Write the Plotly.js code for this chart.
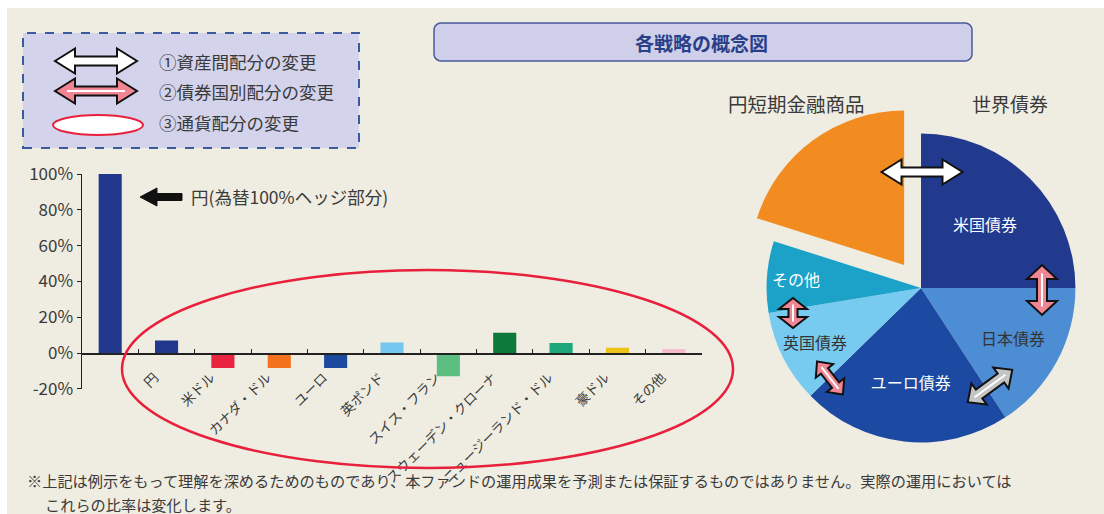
<!DOCTYPE html>
<html>
<head>
<meta charset="utf-8">
<script src="https://cdn.plot.ly/plotly-3.0.1.min.js"></script>
<style>
html, body { margin: 0; padding: 0; background: #fff; }
#chart { width: 1104px; height: 514px; }
</style>
</head>
<body>
<div id="chart"></div>
<script>
// Currency allocation (bar chart)
const currencies = ['円(ヘッジ)', '円', '米ドル', 'カナダ・ドル', 'ユーロ', '英ポンド', 'スイス・フラン',
    'スウェーデン・クローナ', 'ニュージーランド・ドル', '豪ドル', 'その他'];
const currencyLabels = ['', '円', '米ドル', 'カナダ・ドル', 'ユーロ', '英ポンド', 'スイス・フラン',
    'スウェーデン・クローナ', 'ニュージーランド・ドル', '豪ドル', 'その他'];
const currencyShares = [100, 7, -8.4, -8.4, -8.4, 5.8, -13, 11.3, 5.6, 3, 2.2];
const currencyColors = ['#22388c', '#22388c', '#e8243e', '#f2721e', '#1b4a9e', '#74c8f0', '#5cbd80',
    '#0d7a3c', '#1fa77c', '#efc21a', '#f6bccb'];
const yTicks = [-20, 0, 20, 40, 60, 80, 100];

// Asset allocation (pie)
const assetNames = ['米国債券', '日本債券', 'ユーロ債券', '英国債券', 'その他', '円短期金融商品'];
const assetShares = [25, 15.8, 21.9, 9.7, 7.5, 20.1];
const assetText = ['米国債券', '日本債券', 'ユーロ債券', '英国債券', 'その他', ''];
const assetColors = ['#213a8e', '#4d8dd4', '#1c4aa3', '#78cbf0', '#1ca2c8', '#f28b20'];
const assetTextColors = ['#ffffff', '#333333', '#ffffff', '#333333', '#ffffff', '#ffffff'];
const assetPull = [0, 0, 0, 0, 0, 0.185];

const W = 1104, H = 514;
const FONT = '"Noto Sans CJK JP", "Noto Sans", sans-serif';
const px = x => x / W;
const py = y => 1 - y / H;
const pathOf = pts => 'M' + pts.map(p => px(p[0]).toFixed(5) + ',' + py(p[1]).toFixed(5)).join(' L') + ' Z';

// double arrow polygon in pixel space -> paper path
function doubleArrow(cx, cy, len, ang, sw, hw, hl) {
    const a = ang * Math.PI / 180, c = Math.cos(a), s = Math.sin(a);
    const L = len / 2;
    const pts = [[-L, 0], [-L + hl, -hw / 2], [-L + hl, -sw / 2], [L - hl, -sw / 2], [L - hl, -hw / 2],
        [L, 0], [L - hl, hw / 2], [L - hl, sw / 2], [-L + hl, sw / 2], [-L + hl, hw / 2]];
    return pathOf(pts.map(p => [cx + p[0] * c - p[1] * s, cy + p[0] * s + p[1] * c]));
}

function stripe(cx, cy, len, ang, hl) {
    const a = ang * Math.PI / 180, c = Math.cos(a), s = Math.sin(a);
    const L = len / 2 - hl * 0.6;
    return {
        type: 'line', xref: 'paper', yref: 'paper',
        x0: px(cx - L * c), y0: py(cy - L * s), x1: px(cx + L * c), y1: py(cy + L * s),
        line: { color: '#ffffff', width: 2 }
    };
}

// rounded rectangle as polygon
function roundRect(x0, y0, x1, y1, r) {
    const pts = [];
    const corners = [[x1 - r, y0 + r, -90], [x1 - r, y1 - r, 0], [x0 + r, y1 - r, 90], [x0 + r, y0 + r, 180]];
    corners.forEach(c => {
        for (let k = 0; k <= 6; k++) {
            const t = (c[2] + k * 15) * Math.PI / 180;
            pts.push([c[0] + r * Math.cos(t), c[1] + r * Math.sin(t)]);
        }
    });
    return pathOf(pts);
}

const arrows = [
    { cx: 96, cy: 61, len: 82, ang: 0, sw: 9, hw: 25, hl: 20, fill: '#ffffff', stripe: false },
    { cx: 96, cy: 91, len: 82, ang: 0, sw: 9, hw: 25, hl: 20, fill: '#f08593', stripe: true },
    { cx: 922, cy: 172, len: 81, ang: 0, sw: 9, hw: 25, hl: 20, fill: '#ffffff', stripe: false },
    { cx: 1042, cy: 290, len: 50, ang: 90, sw: 10, hw: 30, hl: 14, fill: '#f08593', stripe: true },
    { cx: 793, cy: 313, len: 30, ang: 90, sw: 9, hw: 28, hl: 11, fill: '#f08593', stripe: true },
    { cx: 830, cy: 378, len: 42, ang: 52, sw: 9, hw: 22, hl: 12, fill: '#f08593', stripe: true },
    { cx: 990, cy: 386, len: 55, ang: -36, sw: 11, hw: 26, hl: 14, fill: '#c4c4c4', stripe: true }
];

const shapes = [
    // beige backdrop
    { type: 'rect', xref: 'paper', yref: 'paper', layer: 'below', x0: px(7), x1: 1, y0: 0, y1: py(8),
      fillcolor: '#efede2', line: { width: 0 } },
    // legend box
    { type: 'rect', xref: 'paper', yref: 'paper', x0: px(23), x1: px(359), y0: py(148), y1: py(33),
      fillcolor: '#d3d3ec', line: { color: '#3a5a9c', width: 2, dash: 'dash' } },
    // legend ellipse
    { type: 'circle', xref: 'paper', yref: 'paper', x0: px(53), x1: px(143), y0: py(135), y1: py(115),
      fillcolor: '#ffffff', line: { color: '#e8203c', width: 2 } },
    // title box
    { type: 'path', xref: 'paper', yref: 'paper', path: roundRect(434, 23, 972, 61, 7),
      fillcolor: '#cfcfea', line: { color: '#4a5a9a', width: 1.5 } },
    // currency ellipse
    { type: 'circle', xref: 'paper', yref: 'paper', x0: px(122), x1: px(733), y0: py(468), y1: py(270),
      line: { color: '#e8203c', width: 2.5 } },
    // black pointer arrow
    { type: 'path', xref: 'paper', yref: 'paper',
      path: pathOf([[140, 197], [157, 188], [157, 193.5], [182, 193.5], [182, 200.5], [157, 200.5], [157, 206]]),
      fillcolor: '#111111', line: { color: '#111111', width: 1 } }
];

arrows.forEach(a => {
    shapes.push({
        type: 'path', xref: 'paper', yref: 'paper',
        path: doubleArrow(a.cx, a.cy, a.len, a.ang, a.sw, a.hw, a.hl),
        fillcolor: a.fill, line: { color: '#111111', width: 2 }
    });
    if (a.stripe) shapes.push(stripe(a.cx, a.cy, a.len, a.ang, a.hl));
});

const txt = (x, y, text, size, opts) => Object.assign({
    xref: 'paper', yref: 'paper', x: px(x), y: py(y), text: text, showarrow: false,
    xanchor: 'left', yanchor: 'middle', font: { family: FONT, size: size, color: '#3a3a3a' }
}, opts || {});

const annotations = [
    txt(157, 61, '①資産間配分の変更', 17.5),
    txt(157, 91, '②債券国別配分の変更', 17.5),
    txt(157, 122, '③通貨配分の変更', 17.5),
    txt(189, 197, '円(為替100%ヘッジ部分)', 17.5),
    txt(701, 42, '<b>各戦略の概念図</b>', 19, { xanchor: 'center', font: { family: FONT, size: 19, color: '#2a3f88' } }),
    txt(796, 104, '円短期金融商品', 19.5, { xanchor: 'center' }),
    txt(1010, 104, '世界債券', 19, { xanchor: 'center' }),
    txt(26, 492, '※上記は例示をもって理解を深めるためのものであり、本ファンドの運用成果を予測または保証するものではありません。実際の運用においては', 15.2,
        { yanchor: 'bottom', borderpad: 0 }),
    txt(44, 492, 'これらの比率は変化します。', 15.2, { yanchor: 'top', borderpad: 0 })
];

const barTrace = {
    type: 'bar',
    x: currencies,
    y: currencyShares,
    marker: { color: currencyColors },
    hoverinfo: 'skip'
};

const pieTrace = {
    type: 'pie',
    labels: assetNames,
    values: assetShares,
    text: assetText,
    textinfo: 'text',
    textposition: 'inside',
    insidetextorientation: 'horizontal',
    textfont: { family: FONT, size: 16, color: assetTextColors },
    marker: { colors: assetColors, line: { width: 0 } },
    pull: assetPull,
    sort: false,
    direction: 'clockwise',
    rotation: 0,
    showlegend: false,
    hoverinfo: 'skip',
    domain: { x: [px(738), 1], y: [py(471.5), py(104.5)] }
};

const yBottom = py(388.8), yTop = py(174);

const layout = {
    width: W,
    height: H,
    margin: { l: 0, r: 0, t: 0, b: 0 },
    paper_bgcolor: '#ffffff',
    plot_bgcolor: 'rgba(0,0,0,0)',
    showlegend: false,
    bargap: 0.59,
    font: { family: FONT, color: '#3a3a3a' },
    xaxis: {
        domain: [px(82), px(702)],
        anchor: 'free',
        position: yBottom + (yTop - yBottom) * 20 / 120,
        tickmode: 'array',
        tickvals: currencies,
        ticktext: currencyLabels,
        tickson: 'boundaries',
        ticks: 'inside',
        ticklen: 4,
        tickcolor: '#222',
        ticklabelstandoff: 10,
        ticklabelshift: -12,
        showline: true,
        linecolor: '#222',
        linewidth: 1.5,
        showgrid: false,
        zeroline: false,
        tickangle: -45,
        tickfont: { family: FONT, size: 13.5, color: '#3a3a3a' },
        fixedrange: true
    },
    yaxis: {
        domain: [yBottom, yTop],
        range: [-20, 100],
        tickmode: 'array',
        tickvals: yTicks,
        ticktext: yTicks.map(v => v + '%'),
        ticks: 'outside',
        ticklen: 4,
        tickcolor: '#222',
        showline: true,
        linecolor: '#222',
        linewidth: 1.5,
        showgrid: false,
        zeroline: false,
        tickfont: { family: FONT, size: 17, color: '#3a3a3a' },
        fixedrange: true
    },
    shapes: shapes,
    annotations: annotations
};

Plotly.newPlot('chart', [barTrace, pieTrace], layout, { displayModeBar: false, staticPlot: true });
</script>
</body>
</html>
